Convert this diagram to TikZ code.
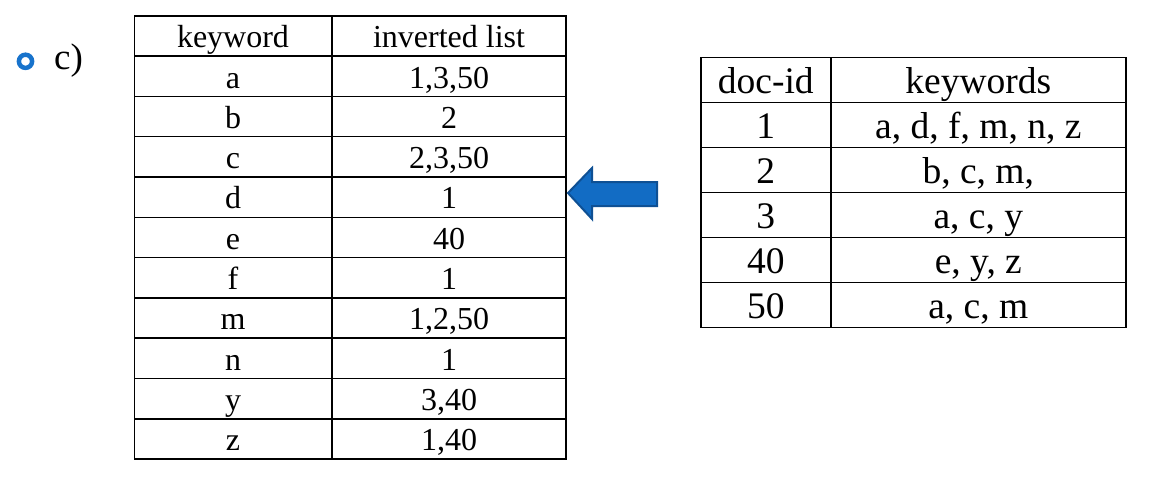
\documentclass[tikz,border=0pt]{standalone}
\usepackage{fontspec}
\setmainfont{Liberation Serif}
\newfontfamily\tabfont{Liberation Serif}
\definecolor{bulletblue}{RGB}{24,115,204}
\definecolor{arrowfill}{RGB}{18,108,196}
\definecolor{arrowline}{RGB}{14,80,148}
\begin{document}
\begin{tikzpicture}[x=1pt,y=-1pt,
  gridline/.style={line width=1.6pt,black},
  ltxt/.style={anchor=base,inner sep=0pt,font=\tabfont\fontsize{32}{38}\selectfont},
  rtxt/.style={anchor=base,inner sep=0pt,font=\tabfont\fontsize{37.5}{44}\selectfont}]
\useasboundingbox (0,0) rectangle (1157,479);
% bullet and label
\node[circle,draw=bulletblue,line width=4.5pt,minimum size=13.2pt,inner sep=0pt] (bul) at (25.5,61.3) {};
\node[anchor=base west,inner sep=0pt,font=\tabfont\fontsize{37}{44}\selectfont] (lab) at (54,69) {c)};
% left table grid
\draw[gridline] (134.3,15.7) rectangle (566,459.2);
\draw[gridline] (331.7,15.7) -- (331.7,459.2);
\foreach \i in {1,...,10}{
  \draw[gridline] (134.3,15.7+40.32*\i) -- (566,15.7+40.32*\i);
}
% left table text
\foreach \k/\v [count=\i from 0] in {keyword/inverted list,a/{1,3,50},b/2,c/{2,3,50},d/1,e/40,f/1,m/{1,2,50},n/1,y/{3,40},z/{1,40}}{
  \node[ltxt] (lk\i) at (233,15.7+40.32*\i+32) {\k};
  \node[ltxt] (lv\i) at (449,15.7+40.32*\i+32) {\v};
}
% right table grid
\draw[gridline] (701,57.3) rectangle (1126,327.3);
\draw[gridline] (830.7,57.3) -- (830.7,327.3);
\foreach \i in {1,...,5}{
  \draw[gridline] (701,57.3+45*\i) -- (1126,57.3+45*\i);
}
% right table text
\foreach \k/\v [count=\i from 0] in {doc-id/keywords,1/{a, d, f, m, n, z},2/{b, c, m,},3/{a, c, y},40/{e, y, z},50/{a, c, m}}{
  \node[rtxt] (rk\i) at (765.8,57.3+45*\i+36) {\k};
  \node[rtxt] (rv\i) at (978.3,57.3+45*\i+36) {\v};
}
% block arrow
\draw[fill=arrowfill,draw=arrowline,line width=2pt,line join=miter]
  (568,193) -- (592,168) -- (592,182) -- (657,182) -- (657,206) -- (592,206) -- (592,219) -- cycle;
\end{tikzpicture}
\end{document}
